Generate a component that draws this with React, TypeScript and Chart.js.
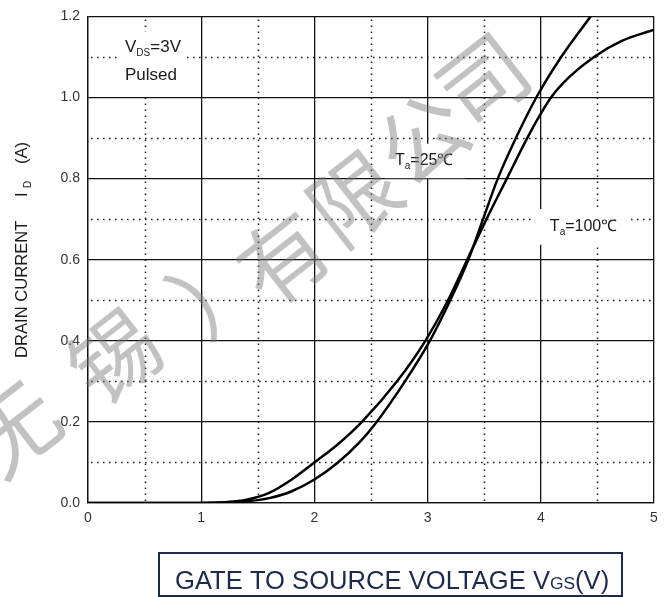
import React, { useEffect, useRef } from 'react';
import { Chart, registerables } from 'chart.js';

Chart.register(...registerables);

// ---- data ----
const vgs25 = [0, 1.0, 1.2, 1.4, 1.6, 1.8, 2.0, 2.2, 2.4, 2.55, 2.8, 3.02, 3.2, 3.36, 3.49, 3.62, 3.78, 3.96, 4.18, 4.44];
const id25 = [0, 0, 0.001, 0.004, 0.012, 0.029, 0.058, 0.098, 0.15, 0.2, 0.3, 0.4, 0.5, 0.6, 0.7, 0.8, 0.9, 1.0, 1.1, 1.2];

const vgs100 = [0, 1.0, 1.2, 1.4, 1.6, 1.8, 2.0, 2.2, 2.42, 2.73, 2.98, 3.18, 3.35, 3.52, 3.7, 3.88, 4.0, 4.09, 4.25, 4.47, 4.72, 5.0];
const id100 = [0, 0, 0.002, 0.008, 0.025, 0.058, 0.1, 0.143, 0.2, 0.3, 0.4, 0.5, 0.6, 0.7, 0.8, 0.9, 0.96, 1.0, 1.05, 1.1, 1.14, 1.167];

const xTickValues = [0, 1, 2, 3, 4, 5];
const yTickValues = [0, 0.2, 0.4, 0.6, 0.8, 1.0, 1.2];
const minorX = [0.5, 1.5, 2.5, 3.5, 4.5];
const minorY = [0.1, 0.3, 0.5, 0.7, 0.9, 1.1];

const watermarkChars = ['无', '锡', '）', '有', '限', '公', '司'];

const FONT = 'Arial, "Liberation Sans", Helvetica, sans-serif';
const NAVY = '#1c2b4b';

type Part = { t: string; size: number; dy?: number };

function drawRich(ctx: CanvasRenderingContext2D, parts: Part[], x: number, y: number) {
  let cx = x;
  for (const p of parts) {
    ctx.font = `${p.size}px ${FONT}`;
    ctx.fillText(p.t, cx, y + (p.dy || 0));
    cx += ctx.measureText(p.t).width;
  }
}

// watermark glyph centres (page pixels), one per character
const wmCentres: [number, number][] = [
  [14, 428], [114, 356], [218, 287], [283, 258], [354, 198], [422, 138], [483, 80],
];

const decorPlugin = {
  id: 'decor',
  beforeDatasetsDraw(chart: any) {
    const { ctx, chartArea, scales } = chart;
    const xs = scales.x;
    const ys = scales.y;
    ctx.save();
    // minor dotted grid
    ctx.strokeStyle = '#222';
    ctx.lineWidth = 1.6;
    ctx.setLineDash([1.6, 4.4]);
    for (const v of minorX) {
      const px = Math.round(xs.getPixelForValue(v)) + 0.5;
      ctx.beginPath();
      ctx.moveTo(px, chartArea.top + 3);
      ctx.lineTo(px, chartArea.bottom);
      ctx.stroke();
    }
    for (const v of minorY) {
      const py = Math.round(ys.getPixelForValue(v)) + 0.5;
      ctx.beginPath();
      ctx.moveTo(chartArea.left + 3, py);
      ctx.lineTo(chartArea.right, py);
      ctx.stroke();
    }
    ctx.setLineDash([]);

    // white label backgrounds
    const box = (x0: number, y0: number, x1: number, y1: number) => {
      const a = xs.getPixelForValue(x0);
      const b = xs.getPixelForValue(x1);
      const c = ys.getPixelForValue(y0);
      const d = ys.getPixelForValue(y1);
      ctx.fillStyle = '#fff';
      ctx.fillRect(a, c, b - a, d - c);
    };
    box(0.265, 1.162, 0.875, 1.008);
    box(2.62, 0.886, 3.33, 0.801);
    box(3.95, 0.725, 4.77, 0.637);

    // labels
    ctx.fillStyle = '#1a1a1a';
    ctx.textAlign = 'left';
    ctx.textBaseline = 'alphabetic';
    drawRich(ctx, [
      { t: 'V', size: 17 },
      { t: 'DS', size: 10, dy: 4 },
      { t: '=3V', size: 17 },
    ], xs.getPixelForValue(0.327), ys.getPixelForValue(1.111));
    drawRich(ctx, [{ t: 'Pulsed', size: 17 }], xs.getPixelForValue(0.327), ys.getPixelForValue(1.043));
    drawRich(ctx, [
      { t: 'T', size: 16 },
      { t: 'a', size: 10, dy: 4 },
      { t: '=25℃', size: 16 },
    ], xs.getPixelForValue(2.712), ys.getPixelForValue(0.833));
    drawRich(ctx, [
      { t: 'T', size: 16 },
      { t: 'a', size: 10, dy: 4 },
      { t: '=100℃', size: 16 },
    ], xs.getPixelForValue(4.08), ys.getPixelForValue(0.672));
    ctx.restore();
  },
  afterDraw(chart: any) {
    const { ctx } = chart;
    ctx.save();
    // y axis title, rotated
    ctx.translate(27, 0);
    ctx.rotate(-Math.PI / 2);
    ctx.fillStyle = '#1a1a1a';
    ctx.textAlign = 'left';
    ctx.textBaseline = 'alphabetic';
    ctx.font = `16.6px ${FONT}`;
    ctx.fillText('DRAIN CURRENT', -358, 0);
    ctx.fillText('I', -197, 0);
    ctx.font = `10px ${FONT}`;
    ctx.fillText('D', -188, 4);
    ctx.font = `16.6px ${FONT}`;
    ctx.fillText('(A)', -164, 0);
    ctx.restore();

    // x axis title box
    ctx.save();
    ctx.strokeStyle = NAVY;
    ctx.lineWidth = 2;
    ctx.strokeRect(159, 553, 463, 43);
    ctx.fillStyle = NAVY;
    ctx.textBaseline = 'alphabetic';
    drawRich(ctx, [
      { t: 'GATE TO SOURCE VOLTAGE V', size: 25.6 },
      { t: 'GS', size: 17.4 },
      { t: '(V)', size: 25.6 },
    ], 175, 589);
    ctx.restore();

    // watermark
    ctx.save();
    ctx.fillStyle = 'rgba(120,120,120,0.45)';
    ctx.font = '88px "Noto Sans CJK SC", sans-serif';
    ctx.textAlign = 'center';
    ctx.textBaseline = 'middle';
    const ang = -38 * Math.PI / 180;
    watermarkChars.forEach((ch, i) => {
      const [cx, cy] = wmCentres[i];
      ctx.save();
      ctx.translate(cx, cy);
      ctx.rotate(ang);
      ctx.fillText(ch, 0, 0);
      ctx.restore();
    });
    ctx.restore();
  },
};

export default function App() {
  const ref = useRef<HTMLCanvasElement | null>(null);
  useEffect(() => {
    if (!ref.current) return;
    const chart = new Chart(ref.current, {
      type: 'line',
      data: {
        datasets: [
          {
            label: 'Ta=25℃',
            data: vgs25.map((x, i) => ({ x, y: id25[i] })),
            borderColor: '#000',
            borderWidth: 2.5,
            pointRadius: 0,
            cubicInterpolationMode: 'monotone',
            fill: false,
          },
          {
            label: 'Ta=100℃',
            data: vgs100.map((x, i) => ({ x, y: id100[i] })),
            borderColor: '#000',
            borderWidth: 2.5,
            pointRadius: 0,
            cubicInterpolationMode: 'monotone',
            fill: false,
          },
        ],
      },
      options: {
        responsive: false,
        animation: false,
        devicePixelRatio: 1,
        layout: { padding: { left: 8, top: 11, right: 13, bottom: 64 } },
        plugins: {
          legend: { display: false },
          tooltip: { enabled: false },
        },
        scales: {
          x: {
            type: 'linear',
            min: 0,
            max: 5,
            afterBuildTicks: (s: any) => {
              s.ticks = xTickValues.map((v) => ({ value: v }));
            },
            ticks: {
              color: '#333',
              font: { family: FONT, size: 14 },
              padding: 7,
              maxRotation: 0,
              callback: (v: any) => String(v),
            },
            grid: { color: '#111', lineWidth: 1.3, drawTicks: false },
            border: { color: '#111', width: 1.3 },
            afterFit: (s: any) => {
              s.height = 30;
            },
          },
          y: {
            type: 'linear',
            min: 0,
            max: 1.2,
            afterBuildTicks: (s: any) => {
              s.ticks = yTickValues.map((v) => ({ value: v }));
            },
            ticks: {
              color: '#333',
              font: { family: FONT, size: 14 },
              padding: 8,
              callback: (v: any) => Number(v).toFixed(1),
            },
            grid: { color: '#111', lineWidth: 1.3, drawTicks: false },
            border: { color: '#111', width: 1.3 },
            afterFit: (s: any) => {
              s.width = 80;
            },
          },
        },
      } as any,
      plugins: [decorPlugin],
    });
    return () => chart.destroy();
  }, []);
  return (
    <div style={{ position: 'absolute', left: 0, top: 0, width: 667, height: 597, background: '#fff' }}>
      <canvas ref={ref} width={667} height={597} style={{ display: 'block' }} />
    </div>
  );
}
